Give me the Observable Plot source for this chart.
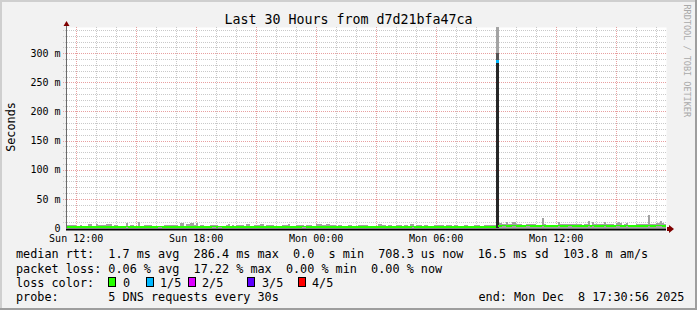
<!DOCTYPE html>
<html>
<head>
<meta charset="utf-8">
<script src="https://cdn.jsdelivr.net/npm/d3@7"></script>
<script src="https://cdn.jsdelivr.net/npm/@observablehq/plot@0.6"></script>
<style>
html, body { margin: 0; padding: 0; background: #f2f2f2; }
#chart { width: 697px; height: 310px; }
svg text { white-space: pre; }
</style>
</head>
<body>
<div id="chart"></div>
<script>
// ---------- data ----------
const endTime = new Date(Date.UTC(2025, 11, 8, 17, 30, 56));
const startTime = new Date(+endTime - 30 * 3600e3);
const slotMinutes = 6;

// smoke top (ms) per 6-minute slot
const smokeHighMs = [
  5.5,5.5,5.5,5.3,5.3,2.5,2.5,5.3,2.5,2.5,
  2.5,7,7,2.5,2.5,6.5,6,6,6,6,
  6.5,6.5,6.5,2.5,5.5,5.5,2.5,2.5,2.5,2.5,
  9,2.5,5,5,2.5,2.5,10.5,2.5,2.5,5.5,
  5.5,5.5,5.5,2.5,2.5,2.5,2.5,2.5,2.5,5.3,
  5.3,5.3,5.3,5.3,5.3,5.3,2.5,8,8,3,
  6.5,6.5,8,8,6,8.5,2.5,5.5,5.5,2.5,
  2.5,2.5,5.5,5.5,5.5,5.5,2.5,2.5,2.5,2.5,
  5.5,7,2.5,5.5,2.5,5.5,5.5,5.5,5.5,2.5,
  7,7,2.5,2.5,5.5,5.5,5.5,7,7,2.5,
  5.5,5.5,5.5,5.5,2.5,2.5,2.5,2.5,5.5,5.5,
  5.5,6.5,2.5,2.5,2.5,5.5,5.5,5.5,5.5,2.5,
  5.5,5.5,5.5,2.5,2.5,7,7,7,5.5,5.5,
  6.5,6.5,5.5,5.5,5.5,2.5,5.5,5.5,2.5,2.5,
  2.5,5.5,5.5,2.5,2.5,2.5,5.5,5.5,5.5,5.5,
  5.5,2.5,2.5,2.5,2.5,2.5,6.5,6.5,6,6,
  2.5,5.5,5.5,2.5,2.5,5.5,5.5,5.5,2.5,5.5,
  5.5,2.5,7,7,2.5,5.5,5.5,5.5,2.5,5.5,
  5.5,2.5,2.5,2.5,5.5,5.5,5.5,5.5,5.5,2.5,
  5.5,5.5,5.5,2.5,5.5,5.5,2.5,2.5,2.5,5.5,
  5.5,2.5,2.5,2.5,5.5,5.5,5.5,2.5,2.5,5.5,
  5.5,5.5,5.5,5.5,5.5,345,8,8,7,7,
  10,7,7,10,10,7,7,7,6,5,
  7.5,7.5,7.5,7.5,7.5,5,5,6,16.5,7,
  6,6,6,6,6,6,10.5,7,7,7,
  7,7.5,7.5,7.5,7.5,7.5,7.5,7.5,5,7,
  7,12,6,10.5,7,7,7,7,7,10,
  7,7,7,7,5,8,10,8,5,7.5,
  9,6,6,6,6,7,7,7,7,7,
  7,23,7,7,7,8,8,12,8,7
];

// median rtt (ms) per slot
const medianMs = [
  1.5,1.5,1.5,1.5,1.5,1.5,1.5,1.5,1.5,1.5,
  1.5,1.5,1.5,1.5,1.5,1.5,1.5,1.5,1.5,1.5,
  1.5,1.5,1.5,1.5,1.5,1.5,1.5,1.5,1.5,1.5,
  2.6,1.5,1.5,1.5,1.5,1.5,1.5,1.5,1.5,1.5,
  1.5,1.5,1.5,1.5,1.5,1.5,2.6,2.6,1.5,1.5,
  1.5,1.5,1.5,1.5,1.5,1.5,1.5,1.5,1.5,1.5,
  1.5,1.5,1.5,1.5,1.5,1.5,1.5,1.5,1.5,1.5,
  1.5,1.5,1.5,2.6,2.6,1.5,2.6,2.6,1.5,1.5,
  1.5,1.5,1.5,1.5,1.5,1.5,1.5,1.5,1.5,1.5,
  1.5,1.5,1.5,1.5,1.5,1.5,1.5,1.5,1.5,1.5,
  1.5,1.5,1.5,1.5,1.5,1.5,1.5,1.5,1.5,1.5,
  1.5,1.5,1.5,1.5,1.5,1.5,1.5,1.5,2.6,2.6,
  1.5,1.5,1.5,1.5,1.5,1.5,1.5,1.5,1.5,1.5,
  1.5,1.5,1.5,1.5,1.5,1.5,1.5,1.5,1.5,1.5,
  1.5,1.5,1.5,1.5,1.5,1.5,1.5,1.5,1.5,1.5,
  1.5,1.5,1.5,1.5,1.5,1.5,1.5,1.5,1.5,1.5,
  1.5,1.5,1.5,1.5,1.5,1.5,1.5,1.5,1.5,1.5,
  1.5,1.5,1.5,2.6,1.5,1.5,1.5,1.5,1.5,1.5,
  1.5,1.5,1.5,1.5,1.5,1.5,1.5,1.5,1.5,1.5,
  1.5,1.5,1.5,1.5,1.5,1.5,1.5,1.5,1.5,1.5,
  1.5,1.5,1.5,1.5,1.5,1.5,1.5,1.5,1.5,1.5,
  1.5,1.5,1.5,1.5,1.5,286.4,3.8,3.8,4.5,4.5,
  3.8,3,3.8,4.5,4.5,3.8,3.8,3,3.8,3.8,
  4.5,4.5,3.8,3.8,3,3.8,3.8,3.8,4.5,3.8,
  3,3.8,3.8,3.8,3.8,3,4.5,3.8,3.8,3.8,
  3.8,4.5,4.5,3.8,3,3.8,3.8,3.8,3.8,3,
  3.8,4.5,3.8,4.5,3.8,3,3.8,3.8,3.8,4.5,
  3.8,3.8,3,3.8,3.8,4.5,4.5,3.8,3,3.8,
  4.5,3.8,3.8,3,3.8,3.8,3.8,3.8,3,3.8,
  3.8,4.5,3.8,3.8,3,4.5,4.5,4.5,3.8,3.8
];

const lossIndex = [215];
const lossCount = [1];
const spikeIndex = 215;
const spikeBandTopsMs = [300, 284];

const lossLabels = ["0", "1/5", "2/5", "3/5", "4/5"];
const lossColors = ["#26ff00", "#00b8ff", "#dd00ff", "#5e00ff", "#ff0000"];

const yTicks = [0, 50, 100, 150, 200, 250, 300];
const xLabelTicks = [
  new Date(Date.UTC(2025, 11, 7, 12)),
  new Date(Date.UTC(2025, 11, 7, 18)),
  new Date(Date.UTC(2025, 11, 8, 0)),
  new Date(Date.UTC(2025, 11, 8, 6)),
  new Date(Date.UTC(2025, 11, 8, 12))
];

const titleText = "Last 30 Hours from d7d21bfa47ca";
const yLabelText = "Seconds";
const sideText = "RRDTOOL / TOBI OETIKER";
const legendLine1 = "median rtt:  1.7 ms avg  286.4 ms max  0.0  s min  708.3 us now  16.5 ms sd  103.8 m am/s";
const legendLine2 = "packet loss: 0.06 % avg  17.22 % max  0.00 % min  0.00 % now";
const legendLine3 = "loss color:";
const legendLine4 = "probe:       5 DNS requests every 30s";
const endText = "end: Mon Dec  8 17:30:56 2025";

// ---------- build ----------
const slots = smokeHighMs.map((hi, i) => ({
  t0: new Date(+startTime + i * slotMinutes * 60e3),
  t1: new Date(+startTime + (i + 1) * slotMinutes * 60e3),
  hi,
  med: medianMs[i],
  loss: 0
}));
lossIndex.forEach((idx, k) => { slots[idx].loss = lossCount[k]; });
const spike = slots[spikeIndex];
const spikeShades = ["#a4a4a4", "#555555", "#262626"];
const spikeBands = [spike.hi, ...spikeBandTopsMs].map((top, k) => ({ t0: spike.t0, t1: spike.t1, top, k }));
const smokeFill = "#a2a2a2";
const medianHalf = 1.3;

const hours = d3.utcHour.range(startTime, endTime);
const majorHours = hours.filter(d => d.getUTCHours() % 3 === 0);
const minorHours = hours.filter(d => d.getUTCHours() % 3 !== 0);
const yMinor = d3.range(10, 345, 10).filter(v => v % 50 !== 0);
const yMajor = yTicks.filter(v => v > 0);
const stubStart = new Date(+startTime - 9 * 60e3);
const minorGrid = "#c9c9c9";
const majorGrid = "#e8a0a0";
const FONT = "'DejaVu Sans Mono', monospace";

const plot = Plot.plot({
  width: 697,
  height: 310,
  marginLeft: 66,
  marginRight: 31,
  marginTop: 27,
  marginBottom: 82,
  style: { background: "#f2f2f2", fontFamily: FONT, fontSize: "10px", color: "#000", overflow: "visible" },
  x: { type: "utc", domain: [startTime, endTime], label: null },
  y: { domain: [0, 345], label: null },
  color: { type: "identity" },
  marks: [
    Plot.frame({ fill: "#ffffff", stroke: "none" }),
    Plot.ruleY(yMinor, { y: d => d, x1: stubStart, x2: endTime, stroke: minorGrid, strokeDasharray: "1,1", shapeRendering: "crispEdges" }),
    Plot.ruleX(minorHours, { x: d => d, y1: 0, y2: 345, stroke: minorGrid, strokeDasharray: "1,1", shapeRendering: "crispEdges" }),
    Plot.ruleY(yMajor, { y: d => d, x1: stubStart, x2: endTime, stroke: majorGrid, strokeDasharray: "1,1", shapeRendering: "crispEdges" }),
    Plot.ruleX(majorHours, { x: d => d, y1: 0, y2: 345, stroke: majorGrid, strokeDasharray: "1,1", shapeRendering: "crispEdges" }),
    Plot.rect(slots, { x1: "t0", x2: "t1", y1: 0, y2: "hi", fill: smokeFill, inset: 0, clip: true, shapeRendering: "crispEdges" }),
    Plot.rect(spikeBands, { x1: "t0", x2: "t1", y1: 0, y2: "top", fill: d => spikeShades[d.k], stroke: d => spikeShades[d.k], strokeWidth: 1, inset: 0, clip: true, shapeRendering: "crispEdges" }),
    Plot.rect(slots, { x1: "t0", x2: "t1", y1: d => d.med - medianHalf, y2: d => d.med + medianHalf, fill: d => lossColors[d.loss], inset: 0, clip: true, shapeRendering: "crispEdges" }),
    Plot.rect([spike], { x1: "t0", x2: "t1", y1: d => d.med - 1.8, y2: d => d.med + 1.8, fill: d => lossColors[d.loss], stroke: d => lossColors[d.loss], strokeWidth: 1, inset: 0, shapeRendering: "crispEdges" }),
    Plot.ruleY([0], { stroke: "#000", strokeWidth: 2, dy: 1 }),
    Plot.axisY(yTicks, { tickSize: 0, tickPadding: 6, tickFormat: v => v === 0 ? "0" : `${v} m`, fontSize: 10, label: null }),
    Plot.axisX(xLabelTicks, { tickSize: 0, tickPadding: 6, tickFormat: d3.utcFormat("%a %H:%M"), fontSize: 10, label: null })
  ]
});

document.getElementById("chart").appendChild(plot);

// ---------- decorations ----------
const svg = d3.select(plot);
const xs = plot.scale("x"), ys = plot.scale("y");
const x0 = Math.round(xs.apply(startTime)) + 0.5;
const xEnd = xs.apply(endTime);
const y0 = ys.apply(0);

// shaded border
svg.append("rect").attr("x", 0).attr("y", 0).attr("width", 697).attr("height", 2).attr("fill", "#cfcfcf");
svg.append("rect").attr("x", 0).attr("y", 0).attr("width", 2).attr("height", 310).attr("fill", "#cfcfcf");
svg.append("rect").attr("x", 0).attr("y", 308).attr("width", 697).attr("height", 2).attr("fill", "#9e9e9e");
svg.append("rect").attr("x", 695).attr("y", 0).attr("width", 2).attr("height", 310).attr("fill", "#9e9e9e");

// y axis line + arrows
svg.append("line").attr("x1", x0).attr("x2", x0).attr("y1", y0).attr("y2", 25)
  .attr("stroke", "#6a6a6a").attr("stroke-width", 1);
svg.append("path").attr("d", `M${x0},21 L${x0 - 3},26 L${x0 + 3},26 Z`).attr("fill", "#7f0000");
svg.append("path").attr("d", `M${xEnd + 1},${y0 - 1} L${xEnd + 3},${y0 - 1} L${xEnd + 3},${y0 - 3} L${xEnd + 8},${y0 + 1} L${xEnd + 3},${y0 + 5} L${xEnd + 3},${y0 + 3} L${xEnd + 1},${y0 + 3} Z`).attr("fill", "#7f0000");

const txt = (x, y, s, size, opts = {}) => {
  const t = svg.append("text")
    .attr("x", x).attr("y", y)
    .attr("xml:space", "preserve")
    .attr("font-family", FONT)
    .attr("font-size", size)
    .attr("fill", opts.fill || "#000")
    .attr("text-anchor", opts.anchor || "start")
    .text(s);
  if (opts.transform) t.attr("transform", opts.transform);
  return t;
};

txt(348.5, 24, titleText, 13.3, { anchor: "middle" });
txt(0, 0, yLabelText, 11.8, { anchor: "middle", transform: "translate(15.3,127) rotate(-90)" });
txt(0, 0, sideText, 8.5, { fill: "#a9a9a9", transform: "translate(683.5,4.5) rotate(90)" });

const lx = 16;
txt(lx, 258.3, legendLine1, 11.8);
txt(lx, 272.5, legendLine2, 11.8);
txt(lx, 286.7, legendLine3, 11.8);
txt(lx, 300.9, legendLine4, 11.8);
txt(478.5, 300.9, endText, 11.8);

const boxX = [108, 146, 188, 247, 298];
const labelX = [123, 160, 202, 262, 312];
lossLabels.forEach((lab, i) => {
  svg.append("rect").attr("x", boxX[i] + 0.5).attr("y", 277.5).attr("width", 7).attr("height", 9)
    .attr("fill", lossColors[i]).attr("stroke", "#000").attr("stroke-width", 1);
  txt(labelX[i], 286.7, lab, 11.8);
});
</script>
</body>
</html>
